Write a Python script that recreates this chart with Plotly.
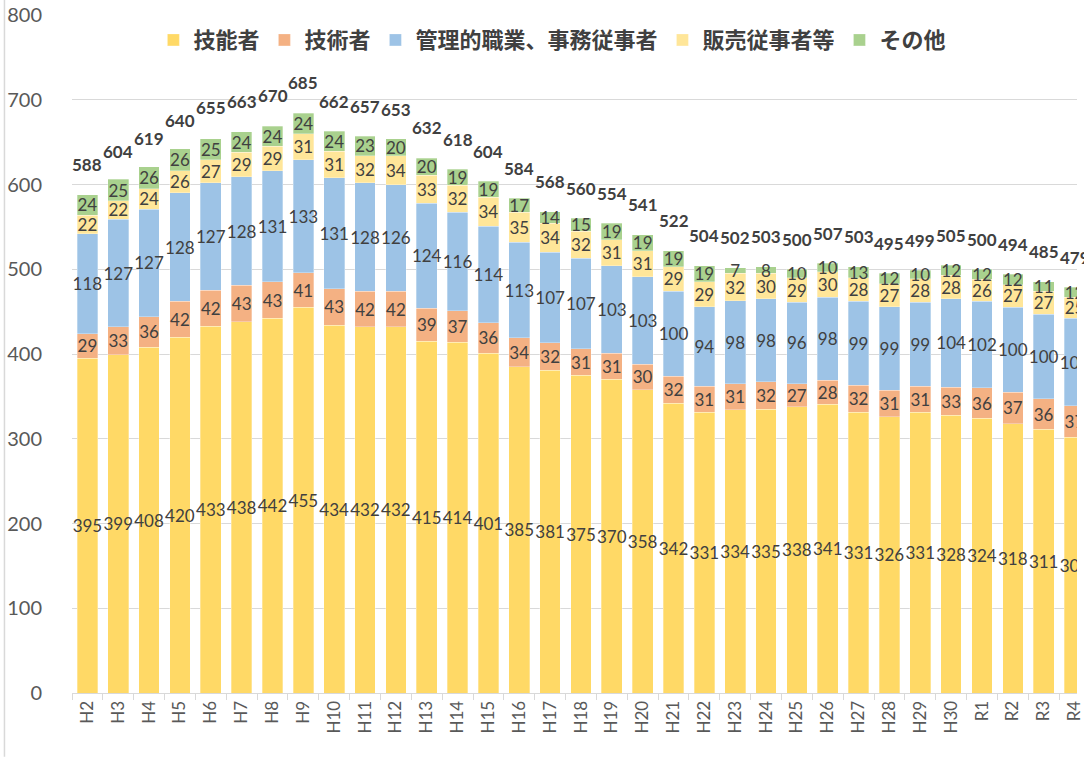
import plotly.graph_objects as go

categories = ["H2","H3","H4","H5","H6","H7","H8","H9","H10","H11","H12","H13","H14","H15","H16",
              "H17","H18","H19","H20","H21","H22","H23","H24","H25","H26","H27","H28","H29","H30",
              "R1","R2","R3","R4"]
ginou = [395,399,408,420,433,438,442,455,434,432,432,415,414,401,385,381,375,370,358,342,331,334,335,338,341,331,326,331,328,324,318,311,302]
gijutsu = [29,33,36,42,42,43,43,41,43,42,42,39,37,36,34,32,31,31,30,32,31,31,32,27,28,32,31,31,33,36,37,36,37]
kanri = [118,127,127,128,127,128,131,133,131,128,126,124,116,114,113,107,107,103,103,100,94,98,98,96,98,99,99,99,104,102,100,100,103]
hanbai = [22,22,24,26,27,29,29,31,31,32,34,33,32,34,35,34,32,31,31,29,29,32,30,29,30,28,27,28,28,26,27,27,25]
sonota = [24,25,26,26,25,24,24,24,24,23,20,20,19,19,17,14,15,19,19,19,19,7,8,10,10,13,12,10,12,12,12,11,12]
totals = [588,604,619,640,655,663,670,685,662,657,653,632,618,604,584,568,560,554,541,522,504,502,503,500,507,503,495,499,505,500,494,485,479]

series = [
    ("技能者", ginou, "#FFD966"),
    ("技術者", gijutsu, "#F4B183"),
    ("管理的職業、事務従事者", kanri, "#9DC3E6"),
    ("販売従事者等", hanbai, "#FFE699"),
    ("その他", sonota, "#A9D18E"),
]

FONT = "Lato, 'Noto Sans CJK JP', sans-serif"
fig = go.Figure()
for name, vals, color in series:
    fig.add_trace(go.Bar(
        x=categories, y=vals, name=name,
        marker=dict(color=color, line=dict(color="rgba(255,255,255,0.6)", width=0.5)),
        text=[str(v) for v in vals], textposition="inside", insidetextanchor="middle",
        textangle=0, constraintext="none",
        textfont=dict(family=FONT, size=17, color="#404040"),
        hoverinfo="skip",
    ))

for c, t in zip(categories, totals):
    fig.add_annotation(x=c, y=t, text=str(t), showarrow=False, yanchor="middle", yshift=30,
                       font=dict(family=FONT, size=17, color="#404040", weight="bold"))

fig.update_layout(
    width=1084, height=757, autosize=False,
    barmode="stack", bargap=0.33,
    plot_bgcolor="white", paper_bgcolor="white",
    margin=dict(l=72, r=0, t=15, b=64),
    uniformtext=dict(minsize=17, mode="show"),
    legend=dict(orientation="h", x=0.478, xanchor="center", y=0.963, yanchor="middle",
                traceorder="normal", bgcolor="rgba(0,0,0,0)",
                font=dict(family="'Noto Sans CJK JP', sans-serif", size=22, color="#404040", weight="bold")),
    font=dict(family=FONT, color="#595959"),
)
fig.update_xaxes(
    type="category", range=[-0.5, 32.08], tickangle=-90,
    tickfont=dict(family=FONT, size=17, color="#595959"),
    showline=True, linecolor="#D9D9D9", linewidth=1,
    ticks="outside", tickson="boundaries", ticklen=6, tickcolor="#D9D9D9",
    showgrid=False,
)
fig.update_yaxes(
    range=[0, 800], tick0=0, dtick=100, showgrid=True, gridcolor="#D9D9D9", gridwidth=1,
    tickfont=dict(family=FONT, size=20, color="#595959"),
    zeroline=False, showline=False, ticklabelstandoff=29,
)
fig.add_shape(type="line", xref="paper", yref="paper", x0=-0.0672, x1=-0.0672, y0=-0.094, y1=1.022,
              line=dict(color="#D9D9D9", width=1.5))

fig.write_html("out.html", config={"displayModeBar": False},
               post_script="document.body.style.margin='0';document.body.style.overflow='hidden';")
